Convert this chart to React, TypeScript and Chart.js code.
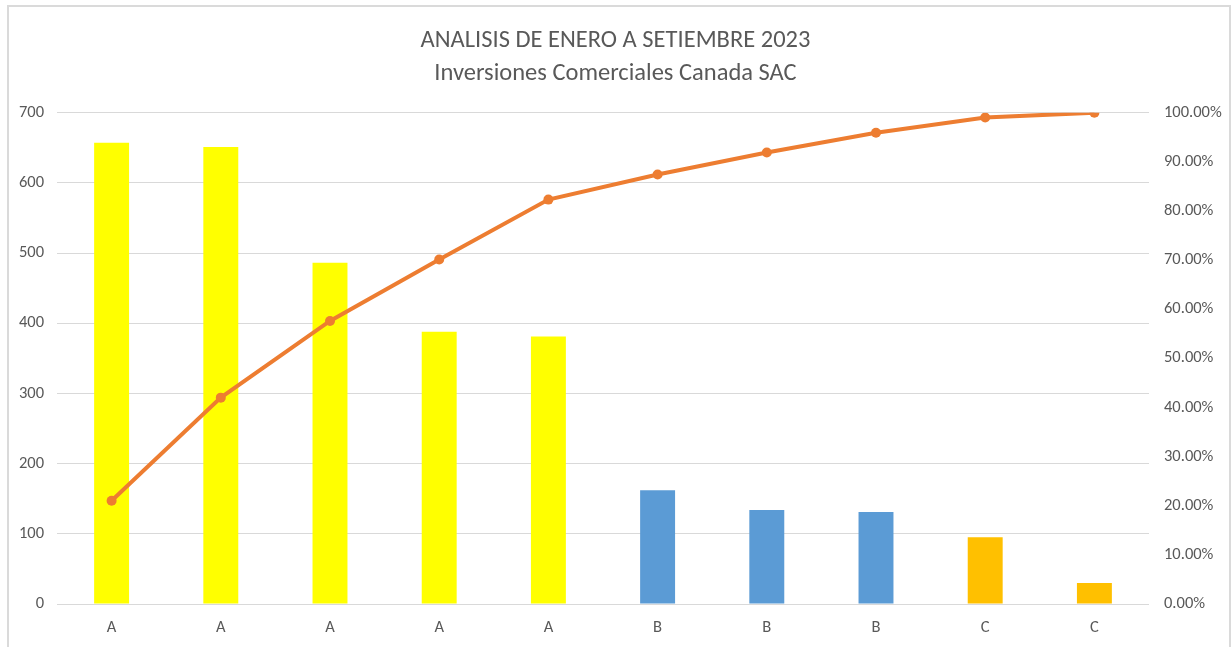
import React, { useEffect, useRef } from "react";
import { Chart, registerables } from "chart.js";

Chart.register(...registerables);

const categories = ["A", "A", "A", "A", "A", "B", "B", "B", "C", "C"];
const montos = [657, 651, 486, 388, 381, 162, 134, 131, 95, 30];
const acumulado = [0.21, 0.42, 0.576, 0.701, 0.823, 0.874, 0.919, 0.959, 0.99, 1.0];
const barColors = [
  "#FFFF00", "#FFFF00", "#FFFF00", "#FFFF00", "#FFFF00",
  "#5B9BD5", "#5B9BD5", "#5B9BD5",
  "#FFC000", "#FFC000",
];
const titleLines = ["ANALISIS DE ENERO A SETIEMBRE 2023", "Inversiones Comerciales Canada SAC"];

const FONT = "Carlito, 'Open Sans', sans-serif";
const TEXT = "#595959";
const GRID = "#d9d9d9";
const TICK_SIZE = 16.5;

export default function App() {
  const ref = useRef<HTMLCanvasElement | null>(null);

  useEffect(() => {
    if (!ref.current) return;
    const chart = new Chart(ref.current, {
      type: "bar",
      data: {
        labels: categories,
        datasets: [
          {
            type: "line",
            label: "% Acumulado",
            data: acumulado,
            yAxisID: "y1",
            borderColor: "#ED7D31",
            backgroundColor: "#ED7D31",
            borderWidth: 4,
            pointRadius: 5,
            pointBorderWidth: 0,
            pointBackgroundColor: "#ED7D31",
            tension: 0,
            order: 0,
          } as any,
          {
            type: "bar",
            label: "Monto",
            data: montos,
            yAxisID: "y",
            backgroundColor: barColors,
            categoryPercentage: 1,
            barPercentage: 0.32,
            order: 1,
          },
        ],
      },
      options: {
        animation: false,
        responsive: false,
        maintainAspectRatio: false,
        layout: { padding: { left: 0, right: 0, top: 0, bottom: 0 } },
        plugins: {
          legend: { display: false },
          tooltip: { enabled: false },
          title: {
            display: true,
            text: titleLines,
            color: TEXT,
            font: { family: FONT, size: 24.5, weight: "normal", lineHeight: 1.35 },
            padding: { top: 24, bottom: 22.5 },
          },
        },
        scales: {
          x: {
            grid: { display: false, drawTicks: false },
            border: { display: false },
            ticks: { color: TEXT, font: { family: FONT, size: TICK_SIZE }, padding: 14 },
            afterFit: (s: any) => { s.height = 43; },
          },
          y: {
            position: "left",
            min: 0,
            max: 700,
            ticks: { stepSize: 100, color: TEXT, font: { family: FONT, size: TICK_SIZE }, padding: 13 },
            grid: { color: GRID, lineWidth: 1, drawTicks: false },
            border: { display: false },
            afterFit: (s: any) => { s.width = 57; },
          },
          y1: {
            position: "right",
            min: 0,
            max: 1,
            ticks: {
              stepSize: 0.1,
              color: TEXT,
              font: { family: FONT, size: TICK_SIZE },
              padding: 15,
              callback: (v: any) => (Number(v) * 100).toFixed(2) + "%",
            },
            grid: { display: false, drawTicks: false },
            border: { display: false },
            afterFit: (s: any) => { s.width = 82; },
          },
        },
      },
    });
    return () => chart.destroy();
  }, []);

  return (
    <div style={{ position: "fixed", left: 0, top: 0, width: 1231, height: 647, overflow: "hidden", background: "#fff" }}>
      <div
        style={{
          position: "absolute",
          left: 7,
          top: 5,
          width: 1220,
          height: 700,
          borderTop: "2px solid #dadada",
          borderLeft: "2px solid #dadada",
          borderRight: "2px solid #dadada",
        }}
      />
      <canvas ref={ref} width={1231} height={647} style={{ position: "absolute", left: 0, top: 0 }} />
    </div>
  );
}
